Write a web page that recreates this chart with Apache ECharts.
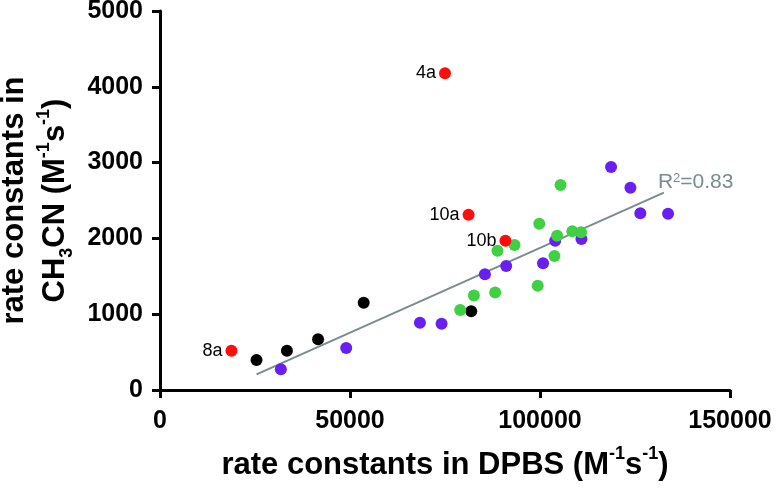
<!DOCTYPE html>
<html>
<head>
<meta charset="utf-8">
<script src="https://cdn.jsdelivr.net/npm/echarts@6/dist/echarts.min.js"></script>
<style>
  html, body { margin: 0; padding: 0; background: #fff; }
  #chart { width: 776px; height: 492px; }
</style>
</head>
<body>
<div id="chart"></div>
<script>
// points: [DPBS, CH3CN]
var blackPts = [[25400, 396], [33400, 518], [41600, 669], [53600, 1152], [81900, 1038]]
var purplePts = [
  [31800, 273], [49000, 555], [68400, 888], [74100, 875], [85500, 1528],
  [91100, 1636], [100800, 1671], [104000, 1970], [110900, 1992], [118700, 2942],
  [123800, 2669], [126400, 2331], [133700, 2326]
]
var greenPts = [
  [79000, 1055], [82600, 1247], [88200, 1285], [88800, 1838], [93300, 1913],
  [99400, 1376], [103800, 1768], [99800, 2194], [105400, 2704], [104500, 2036],
  [108500, 2093], [110800, 2080]
]
var redPts = [[75000, 4178], [81200, 2313], [90900, 1970], [18800, 518]]
var redNames = ['4a', '10a', '10b', '8a']
var fitLine = [[25400, 207], [132600, 2603]]
var fitLabel = '0.83'
var xTicks = [0, 150000, 50000]   // min, max, interval
var yTicks = [0, 5000, 1000]

var chart = echarts.init(document.getElementById('chart'))

var font = 'Arial, "Liberation Sans", sans-serif'
var titleRich = {
  b: { fontSize: 31, fontWeight: 'bold', fontFamily: font, color: '#000', lineHeight: 41 },
  sup: { fontSize: 18, fontWeight: 'bold', fontFamily: font, color: '#000', verticalAlign: 'top', lineHeight: 41, padding: [0, 0, 14, 0] },
  sub: { fontSize: 18, fontWeight: 'bold', fontFamily: font, color: '#000', verticalAlign: 'bottom', lineHeight: 41, padding: [10, 0, 0, 0] }
}

function dots(data, color) {
  return {
    type: 'scatter',
    data: data,
    symbolSize: 12,
    itemStyle: { color: color, opacity: 1 },
    z: 3
  }
}

var axisCommon = {
  type: 'value',
  splitLine: { show: false },
  axisLine: { onZero: false, lineStyle: { color: '#000', width: 3 } },
  axisTick: { length: 8, lineStyle: { color: '#000', width: 3 } },
  axisLabel: {
    color: '#000', fontSize: 25, fontWeight: 'bold', fontFamily: font,
    formatter: function (v) { return String(v) }
  }
}

chart.setOption({
  animation: false,
  grid: { left: 160, right: 46, top: 11, bottom: 102, containLabel: false, outerBoundsMode: 'none' },
  xAxis: Object.assign({}, axisCommon, {
    min: xTicks[0], max: xTicks[1], interval: xTicks[2],
    axisLabel: Object.assign({}, axisCommon.axisLabel, { margin: 19 }),
    name: '{b|rate constants in DPBS (M}{sup|-1}{b|s}{sup|-1}{b|)}',
    nameLocation: 'middle',
    nameGap: 55,
    nameTextStyle: { rich: titleRich }
  }),
  yAxis: Object.assign({}, axisCommon, {
    min: yTicks[0], max: yTicks[1], interval: yTicks[2],
    axisLabel: Object.assign({}, axisCommon.axisLabel, { margin: 17 }),
    name: '{b|rate constants in}\n{b|CH}{sub|3}{b|CN (M}{sup|-1}{b|s}{sup|-1}{b|)}',
    nameLocation: 'middle',
    nameGap: 84,
    nameRotate: 90,
    nameTextStyle: { rich: titleRich }
  }),
  series: [
    {
      type: 'line',
      data: fitLine,
      symbol: 'none',
      lineStyle: { color: '#7a8c8c', width: 2 },
      z: 2,
      endLabel: {
        show: true,
        formatter: 'R{s|2}=' + fitLabel,
        color: '#7a8c8c',
        fontSize: 21,
        fontFamily: font,
        offset: [-14, -10],
        rich: {
          s: { fontSize: 13, color: '#7a8c8c', verticalAlign: 'top', padding: [0, 0, 9, 0] }
        }
      }
    },
    dots(blackPts, '#000000'),
    dots(purplePts, '#6a1ff2'),
    dots(greenPts, '#3fd044'),
    {
      type: 'scatter',
      data: redPts.map(function (p, i) { return { value: p, name: redNames[i] } }),
      symbolSize: 12,
      itemStyle: { color: '#ff0d0d', opacity: 1 },
      z: 4,
      label: {
        show: true,
        position: 'left',
        distance: 3,
        formatter: '{b}',
        color: '#000',
        fontSize: 18,
        fontFamily: font
      }
    }
  ]
})
</script>
</body>
</html>
